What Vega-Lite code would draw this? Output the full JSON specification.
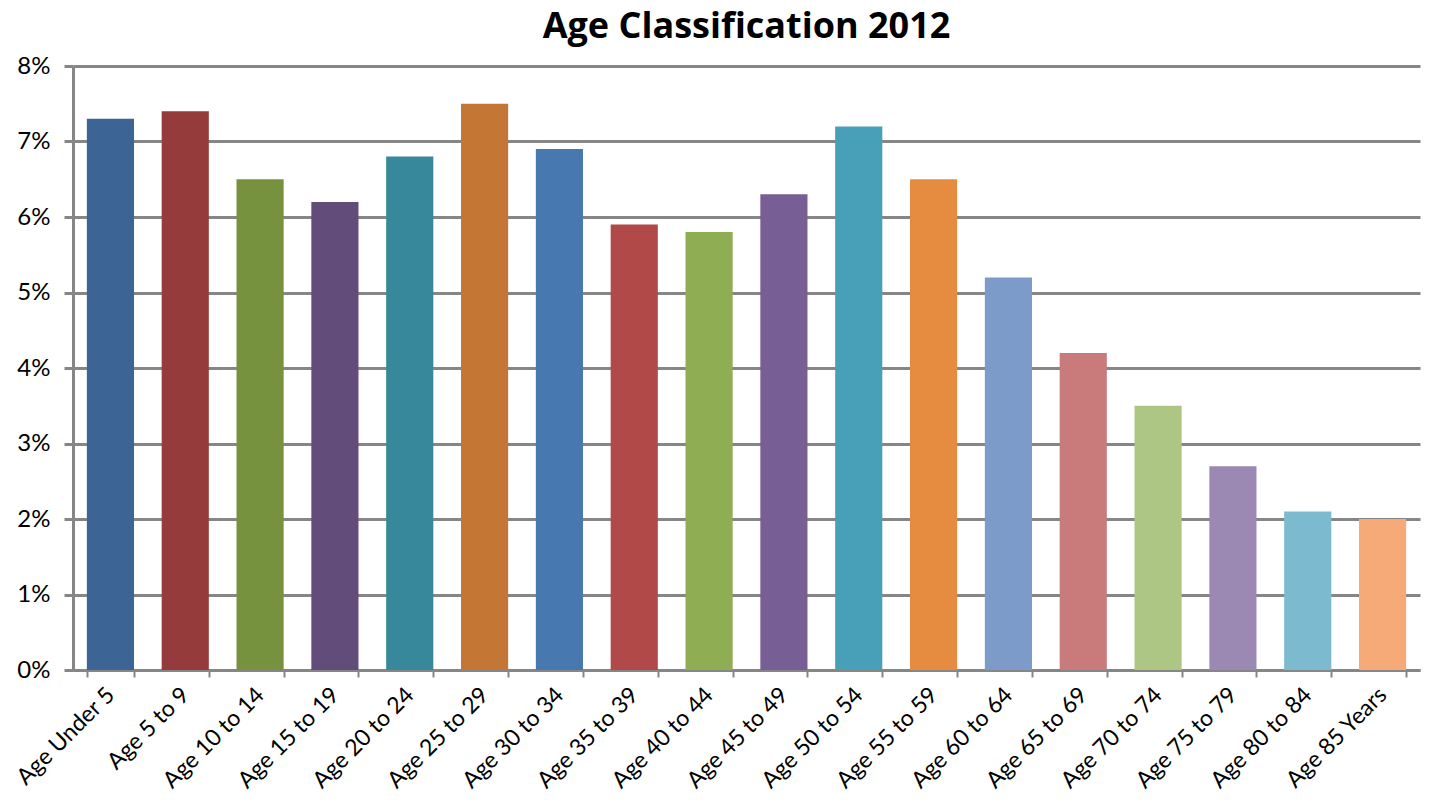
{
  "$schema": "https://vega.github.io/schema/vega-lite/v6.json",
  "width": 1347,
  "height": 604,
  "autosize": {"type": "none"},
  "padding": {"left": 73, "top": 66, "right": 9, "bottom": 137},
  "background": "white",
  "title": {
    "text": "Age Classification 2012",
    "font": "Open Sans",
    "fontSize": 36,
    "fontWeight": "bold",
    "color": "#000000",
    "anchor": "middle",
    "offset": 8
  },
  "config": {
    "view": {"stroke": null},
    "font": "Lato"
  },
  "data": {
    "values": [
      {"age": "Age Under 5", "share": 0.073, "color": "#3C6494"},
      {"age": "Age 5 to 9", "share": 0.074, "color": "#953B3B"},
      {"age": "Age 10 to 14", "share": 0.065, "color": "#77923F"},
      {"age": "Age 15 to 19", "share": 0.062, "color": "#624C7A"},
      {"age": "Age 20 to 24", "share": 0.068, "color": "#37889A"},
      {"age": "Age 25 to 29", "share": 0.075, "color": "#C47634"},
      {"age": "Age 30 to 34", "share": 0.069, "color": "#4878B0"},
      {"age": "Age 35 to 39", "share": 0.059, "color": "#B24949"},
      {"age": "Age 40 to 44", "share": 0.058, "color": "#8FAE53"},
      {"age": "Age 45 to 49", "share": 0.063, "color": "#775E95"},
      {"age": "Age 50 to 54", "share": 0.072, "color": "#47A0B8"},
      {"age": "Age 55 to 59", "share": 0.065, "color": "#E68C41"},
      {"age": "Age 60 to 64", "share": 0.052, "color": "#7C9BC8"},
      {"age": "Age 65 to 69", "share": 0.042, "color": "#C97B7B"},
      {"age": "Age 70 to 74", "share": 0.035, "color": "#ADC684"},
      {"age": "Age 75 to 79", "share": 0.027, "color": "#9B89B3"},
      {"age": "Age 80 to 84", "share": 0.021, "color": "#7CBACF"},
      {"age": "Age 85 Years", "share": 0.020, "color": "#F5AA78"}
    ]
  },
  "mark": {"type": "bar"},
  "encoding": {
    "x": {
      "field": "age",
      "type": "nominal",
      "sort": null,
      "scale": {"paddingInner": 0.37, "paddingOuter": 0.185},
      "axis": {
        "title": null,
        "labelAngle": -45,
        "labelAlign": "right",
        "labelBaseline": "middle",
        "labelFont": "Lato",
        "labelFontSize": 23,
        "labelColor": "#000000",
        "labelPadding": 14,
        "tickBand": "extent",
        "tickColor": "#868686",
        "tickWidth": 2,
        "tickSize": 7,
        "domainColor": "#868686",
        "domainWidth": 3,
        "grid": false
      }
    },
    "y": {
      "field": "share",
      "type": "quantitative",
      "scale": {"domain": [0, 0.08], "nice": false},
      "axis": {
        "title": null,
        "format": ".0%",
        "values": [0, 0.01, 0.02, 0.03, 0.04, 0.05, 0.06, 0.07, 0.08],
        "labelFont": "Lato",
        "labelFontSize": 24,
        "labelColor": "#000000",
        "labelPadding": 14,
        "tickColor": "#868686",
        "tickWidth": 3,
        "tickSize": 9,
        "domainColor": "#868686",
        "domainWidth": 3,
        "grid": true,
        "gridColor": "#868686",
        "gridWidth": 3,
        "gridOpacity": 1
      }
    },
    "color": {"field": "color", "type": "nominal", "scale": null, "legend": null}
  }
}
